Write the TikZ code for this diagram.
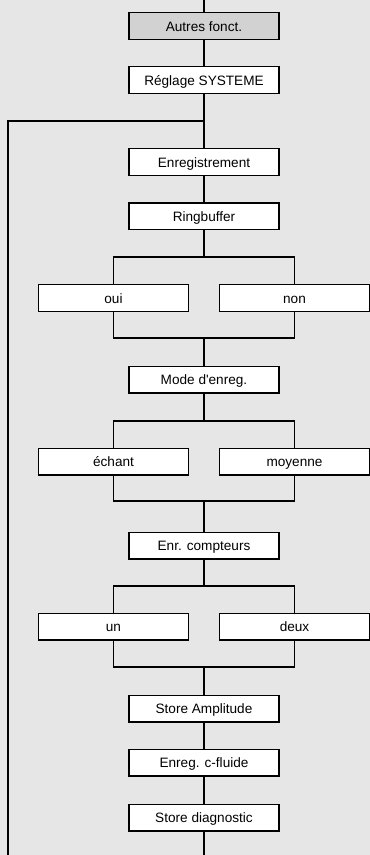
\documentclass[tikz,border=0pt]{standalone}
\usepackage{fontspec}
\setmainfont{Liberation Sans}
\usepackage{xcolor}
\usepackage{tikz}
\definecolor{paper}{HTML}{E6E6E6}
\definecolor{shade}{HTML}{D2D2D2}
\definecolor{ink}{HTML}{000000}
\tikzset{
  wire/.style={draw=ink, line width=1pt},
  menu/.style={draw=ink, line width=1pt, fill=white, minimum width=112.5pt,
    minimum height=20pt, inner sep=0pt, text height=9.5pt, text depth=1.3pt,
    font=\fontsize{10.2}{12}\selectfont},
  entry/.style={menu, fill=shade}
}

\begin{document}
\begin{tikzpicture}[x=0.75pt, y=-0.75pt, line cap=rect, line join=miter]
  \fill[paper] (0,0) rectangle (370,855);
  \useasboundingbox (0,0) rectangle (370,855);
  % main column
  \node[entry] (autres) at (204,26)    {Autres fonct.};
  \node[menu]  (reglage) at (204,80)   {Réglage SYSTEME};
  \node[menu]  (enreg) at (204,162)    {Enregistrement};
  \node[menu]  (ring) at (204,216.5)   {Ringbuffer};
  \node[menu]  (oui) at (113.5,298)    {oui};
  \node[menu]  (non) at (294.5,298)    {non};
  \node[menu]  (mode) at (204,379.5)   {Mode d\textquotesingle enreg.};
  \node[menu]  (echant) at (113.5,461.5) {échant};
  \node[menu]  (moy) at (294.5,461.5)  {moyenne};
  \node[menu]  (compt) at (204,545.5)  {Enr. compteurs};
  \node[menu]  (un) at (113.5,626.5)   {un};
  \node[menu]  (deux) at (294.5,626.5) {deux};
  \node[menu]  (ampl) at (204,708.5)   {Store Amplitude};
  \node[menu]  (fluide) at (204,762.5) {Enreg. c-fluide};
  \node[menu]  (diag) at (204,817.5)   {Store diagnostic};
  % junctions
  \coordinate (top) at (204,0);
  \coordinate (bot) at (204,855);
  \coordinate (loop) at (204,121);
  \coordinate (loopend) at (8,855);
  \coordinate (s1) at (204,257);
  \coordinate (m1) at (204,338);
  \coordinate (s2) at (204,421);
  \coordinate (m2) at (204,501);
  \coordinate (s3) at (204,586);
  \coordinate (m3) at (204,667);
  % connectors
  \draw[wire] (top) -- (autres);
  \draw[wire] (autres) -- (reglage);
  \draw[wire] (reglage) -- (enreg);
  \draw[wire] (loop) -| (loopend);
  \draw[wire] (enreg) -- (ring);
  \draw[wire] (ring) -- (s1);
  \draw[wire] (oui.north) |- (s1) -| (non.north);
  \draw[wire] (oui.south) |- (m1) -| (non.south);
  \draw[wire] (m1) -- (mode);
  \draw[wire] (mode) -- (s2);
  \draw[wire] (echant.north) |- (s2) -| (moy.north);
  \draw[wire] (echant.south) |- (m2) -| (moy.south);
  \draw[wire] (m2) -- (compt);
  \draw[wire] (compt) -- (s3);
  \draw[wire] (un.north) |- (s3) -| (deux.north);
  \draw[wire] (un.south) |- (m3) -| (deux.south);
  \draw[wire] (m3) -- (ampl);
  \draw[wire] (ampl) -- (fluide);
  \draw[wire] (fluide) -- (diag);
  \draw[wire] (diag) -- (bot);
\end{tikzpicture}
\end{document}
